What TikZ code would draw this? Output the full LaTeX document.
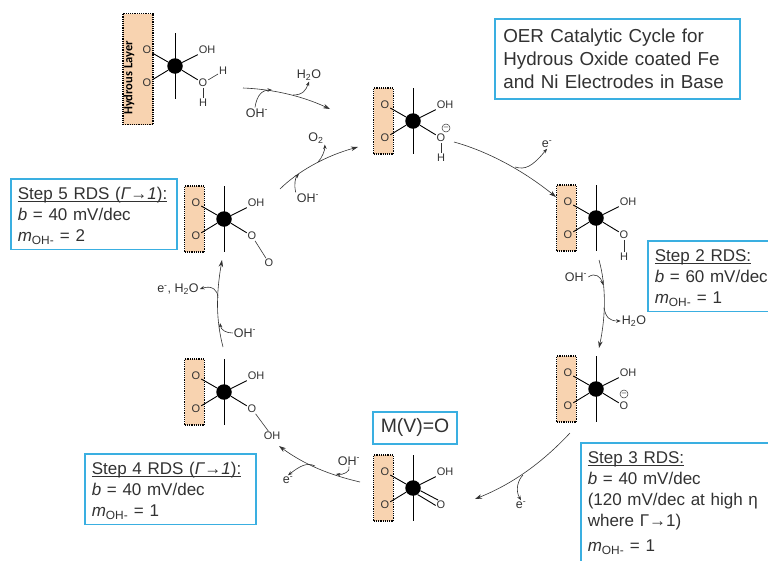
\documentclass[tikz,border=0pt]{standalone}
\usepackage{fontspec}
\setmainfont{Liberation Sans}
\newfontfamily\layerfont{Carlito}
\usepackage{xcolor}
\definecolor{lblue}{RGB}{58,175,225}
\definecolor{lpeach}{RGB}{248,211,176}
\definecolor{dgray}{RGB}{50,50,50}
\usetikzlibrary{arrows.meta,positioning}
\newcommand{\stephead}[1]{\underline{\smash{#1}}\rule{0pt}{16pt}}

\begin{document}
\begin{tikzpicture}[
  x=1pt,y=-1pt,
  infobox/.style={rectangle,draw=lblue,line width=1.6pt,fill=white,anchor=north west,align=left,text=dgray,font=\fontsize{17}{21}\selectfont,inner xsep=7pt,inner ysep=5pt},
  layer/.style={rectangle,draw=black,densely dotted,line width=1.2pt,fill=lpeach,inner sep=0pt,minimum width=19.5pt,minimum height=66pt},
  biglayer/.style={layer,minimum width=30pt,minimum height=111pt,xshift=-7.5pt,yshift=-3pt},
  metal/.style={circle,fill=black,inner sep=0pt,minimum size=15.5pt},
  atom/.style={inner sep=0.8pt,text=dgray,font=\fontsize{11}{12}\selectfont},
  neg/.style={circle,draw=dgray,line width=0.5pt,inner sep=0pt,minimum size=8pt,text=dgray,font=\fontsize{8}{8}\selectfont},
  label/.style={inner sep=1pt,text=dgray,font=\fontsize{12.5}{14}\selectfont},
  bond/.style={line width=0.9pt,black},
  lbond/.style={line width=0.6pt,dgray},
  arrow/.style={-{Stealth[length=7pt,width=4.5pt]},line width=0.6pt,dgray},
  side/.style={-{Stealth[length=4.5pt,width=3.5pt]},line width=0.6pt,dgray},
  pics/core/.style={code={
    \node[#1] (-lay) at (-29.5,0) {};
    \coordinate (-up) at (0,-33);
    \coordinate (-dn) at (0,33);
    \draw[bond] (-up) -- (-dn);
    \node[metal] (-m) at (0,0) {};
    \node[atom] (-o1) at (-28,-16) {O};
    \node[atom] (-o2) at (-28,17) {O};
    \node[atom] (-oh) at (32,-16) {OH};
    \node[atom] (-o3) at (28,17) {O};
    \draw[bond] (-m) -- (-o1);
    \draw[bond] (-m) -- (-o2);
    \draw[bond] (-m) -- (-oh);
  }},
  pics/core/.default=layer
]
  \useasboundingbox (0,0) rectangle (768,560);

  % Complexes
  \pic (m1) at (175,66) {core=biglayer};
  \node[rotate=90,inner sep=0pt,font=\layerfont\bfseries\fontsize{12.5}{14}\selectfont] (m1-txt) at (129,78) {Hydrous Layer};
  \node[atom] (m1-h1) at (223,71) {H};
  \node[atom] (m1-h2) at (203,103) {H};
  \draw[bond] (m1-m) -- (m1-o3);
  \draw[lbond] (m1-o3) -- (m1-h1);
  \draw[lbond] (m1-o3) -- (m1-h2);

  \pic (m2) at (413,121) {core};
  \node[atom] (m2-h) at (441,158) {H};
  \node[neg] (m2-neg) at (446,128) {--};
  \draw[bond] (m2-m) -- (m2-o3);
  \draw[lbond] (m2-o3) -- (m2-h);

  \pic (m3) at (596,218) {core};
  \node[atom] (m3-h) at (624,257) {H};
  \draw[bond] (m3-m) -- (m3-o3);
  \draw[lbond] (m3-o3) -- (m3-h);

  \pic (m4) at (596,389) {core};
  \node[neg] (m4-neg) at (624,394) {--};
  \draw[bond] (m4-m) -- (m4-o3);

  \pic (m5) at (413,488) {core};
  \draw[bond] (m5-m.-20) -- (m5-o3.120);
  \draw[bond] (m5-m.-55) -- (m5-o3.185);

  \pic (m6) at (224,392) {core};
  \node[atom] (m6-oh2) at (272,436) {OH};
  \draw[bond] (m6-m) -- (m6-o3);
  \draw[lbond] (m6-o3) -- (m6-oh2);

  \pic (m7) at (224,219) {core};
  \node[atom] (m7-o4) at (269,263) {O};
  \draw[bond] (m7-m) -- (m7-o3);
  \draw[lbond] (m7-o3) -- (m7-o4);

  % Boxes
  \node[infobox,font=\fontsize{18.8}{23}\selectfont,text width=228pt,inner xsep=8.5pt,minimum height=80pt] (title) at (494,18) {OER Catalytic Cycle for\\Hydrous Oxide coated Fe\\and Ni Electrodes in Base};
  \node[infobox,text width=152pt] (step5) at (10,178) {\stephead{Step 5 RDS (\textit{Γ→1}):}\\\textit{b} = 40 mV/dec\\\textit{m}\textsubscript{OH-} = 2};
  \node[infobox,text width=125pt] (step2) at (647,240) {\stephead{Step 2 RDS:}\\\textit{b} = 60 mV/dec\\\textit{m}\textsubscript{OH-} = 1};
  \node[infobox,text width=157pt] (step4) at (84,453) {\stephead{Step 4 RDS (\textit{Γ→1}):}\\\textit{b} = 40 mV/dec\\\textit{m}\textsubscript{OH-} = 1};
  \node[infobox,text width=190pt] (step3) at (580,442) {\stephead{Step 3 RDS:}\\\textit{b} = 40 mV/dec\\(120 mV/dec at high η\\where Γ→1)\\[4pt]\textit{m}\textsubscript{OH-} = 1\rule[-16pt]{0pt}{1pt}};
  \node[infobox,font=\fontsize{19.4}{23}\selectfont,inner xsep=8pt,minimum height=32pt] (mvo) at (372,411) {M(V)=O};

  % Labels
  \node[label] (oh1) at (257,113) {OH\textsuperscript{-}};
  \node[label] (wat1) at (309,75) {H\textsubscript{2}O};
  \node[label] (oxy) at (316,138) {O\textsubscript{2}};
  \node[label] (oh2) at (308,198) {OH\textsuperscript{-}};
  \node[label] (el1) at (547,144) {e\textsuperscript{-}};
  \node[label] (oh3) at (576,277) {OH\textsuperscript{-}};
  \node[label] (wat2) at (634,321) {H\textsubscript{2}O};
  \node[label] (el2) at (521,505) {e\textsuperscript{-}};
  \node[label] (oh4) at (349,461) {OH\textsuperscript{-}};
  \node[label] (el3) at (288,480) {e\textsuperscript{-}};
  \node[label] (oh5) at (245,333) {OH\textsuperscript{-}};
  \node[label] (elw) at (178,289) {e\textsuperscript{-}, H\textsubscript{2}O};

  % Cycle arrows
  \coordinate (a1) at (243,88);
  \coordinate (a1j) at (272,90);
  \coordinate (a1k) at (293,95);
  \coordinate (b1) at (330,109);
  \draw[arrow] (a1) .. controls (270,89) and (300,95) .. (b1);
  \coordinate (a2) at (280,189);
  \coordinate (a2j) at (299,174);
  \coordinate (a2k) at (318,162);
  \coordinate (b2) at (358,147);
  \draw[arrow] (a2) .. controls (297,172) and (325,156) .. (b2);
  \coordinate (a3) at (454,142);
  \coordinate (a3j) at (515,167);
  \coordinate (b3) at (556,197);
  \draw[arrow] (a3) .. controls (490,152) and (525,172) .. (b3);
  \coordinate (a4) at (599,260);
  \coordinate (a4j) at (603,285);
  \coordinate (a4k) at (604,308);
  \coordinate (b4) at (599,348);
  \draw[arrow] (a4) .. controls (606,285) and (606,315) .. (b4);
  \coordinate (a5) at (570,433);
  \coordinate (a5j) at (523,475);
  \coordinate (b5) at (475,499);
  \draw[arrow] (a5) .. controls (540,465) and (510,485) .. (b5);
  \coordinate (a6) at (360,482);
  \coordinate (a6j) at (336,474);
  \coordinate (a6k) at (315,466);
  \coordinate (b6) at (279,446);
  \draw[arrow] (a6) .. controls (330,475) and (305,465) .. (b6);
  \coordinate (a7) at (223,347);
  \coordinate (a7j) at (220,323);
  \coordinate (a7k) at (218,298);
  \coordinate (b7) at (222,260);
  \draw[arrow] (a7) .. controls (216,320) and (216,295) .. (b7);

  % Side arrows
  \draw[side] (oh1.north) ++(-2,0) .. controls (257,94) and (263,90) .. (a1j);
  \draw[side] (a1k) .. controls (303,95) and (306,90) .. (wat1.south);
  \draw[side] (a2k) .. controls (322,158) and (325,150) .. (oxy.south east);
  \draw[side] (oh2.north west) .. controls (294,185) and (295,178) .. (a2j);
  \draw[side] (a3j) .. controls (525,170) and (532,167) .. (el1.south);
  \draw[side] (oh3.east) .. controls (595,272) and (601,277) .. (a4j);
  \draw[side] (a4k) .. controls (606,318) and (610,321) .. (wat2.west);
  \draw[side] (a5j) .. controls (518,480) and (515,490) .. (el2.north);
  \draw[side] (oh4.south) .. controls (351,472) and (342,475) .. (a6j);
  \draw[side] (a6k) .. controls (307,462) and (300,466) .. (el3.north);
  \draw[side] (oh5.west) .. controls (226,333) and (221,330) .. (a7j);
  \draw[side] (a7k) .. controls (218,290) and (212,285) .. (elw.east);
\end{tikzpicture}
\end{document}
